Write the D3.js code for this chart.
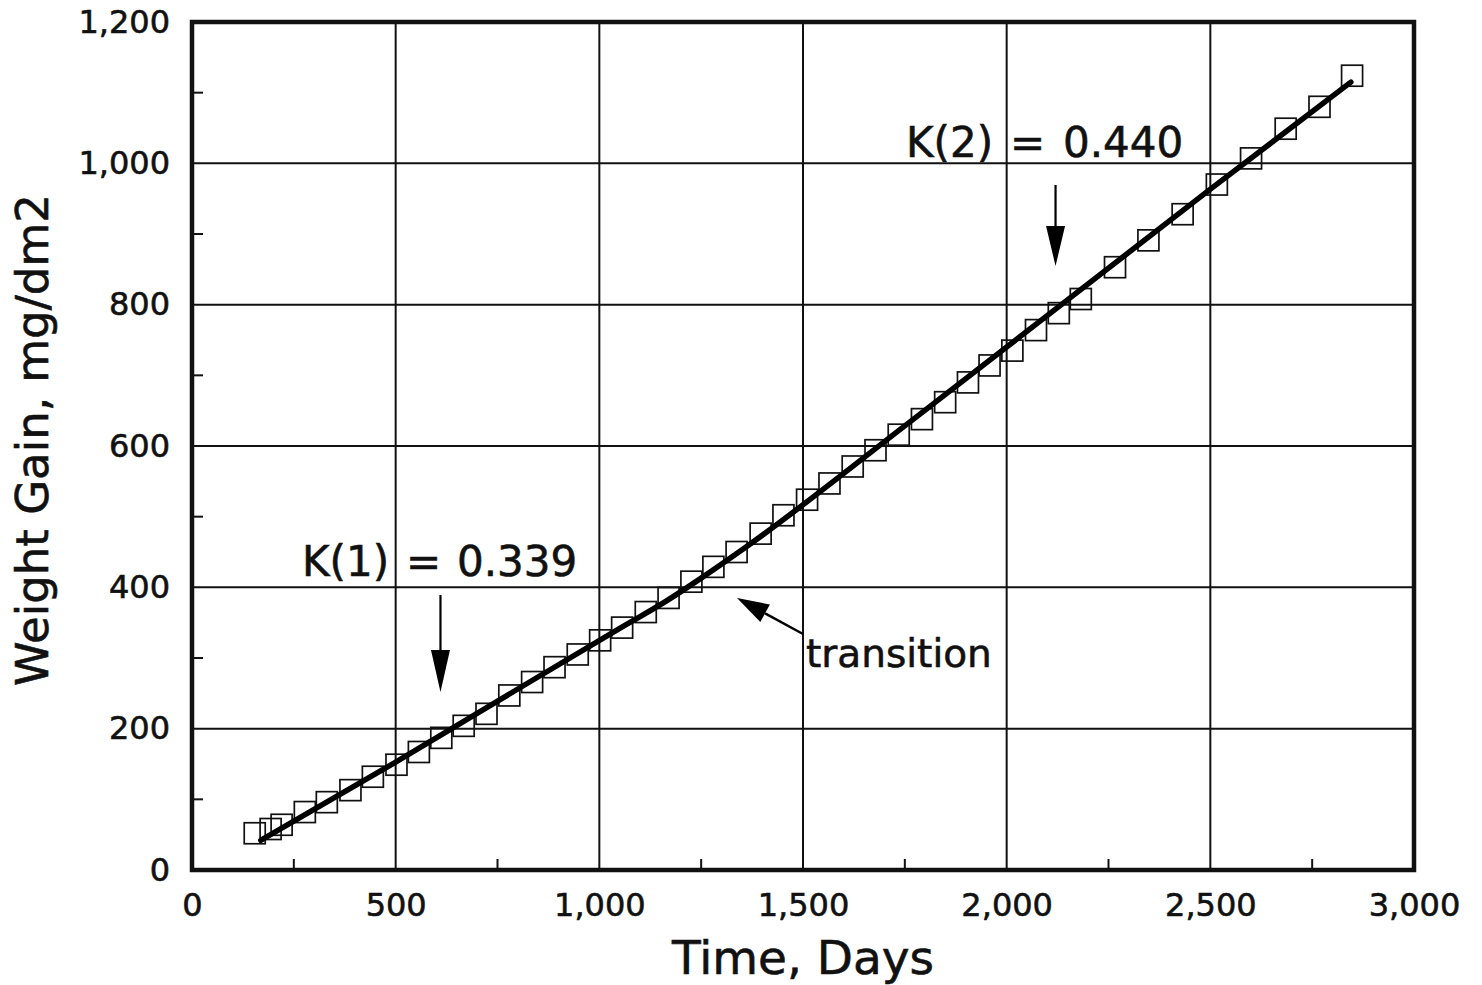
<!DOCTYPE html>
<html>
<head>
<meta charset="utf-8">
<script src="https://cdn.jsdelivr.net/npm/d3@7"></script>
<style>
  html, body { margin: 0; padding: 0; background: #fff; }
  svg { display: block; }
  text { font-family: "DejaVu Sans", sans-serif; fill: #111; stroke: #111; stroke-width: 0.6px; }
</style>
</head>
<body>
<svg id="chart" width="1482" height="985"></svg>
<script>
// ---- data ----
const days = [154, 193, 220, 277, 331, 389, 444, 502, 557, 612, 667, 723, 779, 835, 890, 947,
  1002, 1056, 1114, 1170, 1226, 1280, 1337, 1396, 1452, 1510, 1565, 1622, 1678, 1735, 1792,
  1849, 1905, 1958, 2014, 2072, 2128, 2182, 2266, 2348, 2432, 2516, 2600, 2685, 2768, 2848];
const weightGain = [52, 58, 64, 82, 96, 113, 132, 149, 167, 187, 204, 221, 247, 266, 287, 305,
  325, 343, 365, 385, 408, 429, 450, 476, 502, 524, 547, 571, 594, 616, 638,
  662, 690, 714, 735, 764, 788, 808, 853, 891, 928, 970, 1007, 1049, 1080, 1124];
// fitted curve (two linear regimes with a transition)
const fitDays  = [169, 498, 707, 1050, 1160, 1250, 1360, 1769, 2497, 2845];
const fitValue = [42, 152, 224, 342, 379, 413, 457, 637, 962, 1115];
const xTicks = [0, 500, 1000, 1500, 2000, 2500, 3000];
const yTicks = [0, 200, 400, 600, 800, 1000, 1200];
const xMinor = [250, 750, 1250, 1750, 2250, 2750];
const yMinor = [100, 300, 500, 700, 900, 1100];
const xTitle = "Time, Days";
const yTitle = "Weight Gain, mg/dm2";

// ---- layout ----
const svg = d3.select("#chart");
const L = 192, R = 1414, T = 22, B = 870;
const x = d3.scaleLinear().domain([0, 3000]).range([L, R]);
const y = d3.scaleLinear().domain([0, 1200]).range([B, T]);
const fmt = d3.format(",");

// grid
svg.append("g").selectAll("line").data(xTicks.slice(1, -1)).join("line")
  .attr("x1", d => x(d)).attr("x2", d => x(d)).attr("y1", T).attr("y2", B)
  .attr("stroke", "#111").attr("stroke-width", 2);
svg.append("g").selectAll("line").data(yTicks.slice(1, -1)).join("line")
  .attr("y1", d => y(d)).attr("y2", d => y(d)).attr("x1", L).attr("x2", R)
  .attr("stroke", "#111").attr("stroke-width", 2);

// axes (labels)
const xAxis = d3.axisBottom(x).tickValues(xTicks).tickFormat(fmt).tickSize(0).tickPadding(23);
const gx = svg.append("g").attr("transform", `translate(0,${B})`).call(xAxis);
gx.select(".domain").remove();
gx.selectAll("text").attr("font-size", 32).attr("font-family", "DejaVu Sans").attr("fill", "#111");

const yAxis = d3.axisLeft(y).tickValues(yTicks).tickFormat(fmt).tickSize(0).tickPadding(22);
const gy = svg.append("g").attr("transform", `translate(${L},0)`).call(yAxis);
gy.select(".domain").remove();
gy.selectAll("text").attr("font-size", 32).attr("font-family", "DejaVu Sans").attr("fill", "#111");

// minor ticks (inside)
svg.append("g").selectAll("line").data(xMinor).join("line")
  .attr("x1", d => x(d)).attr("x2", d => x(d)).attr("y1", B).attr("y2", B - 11)
  .attr("stroke", "#111").attr("stroke-width", 2);
svg.append("g").selectAll("line").data(yMinor).join("line")
  .attr("y1", d => y(d)).attr("y2", d => y(d)).attr("x1", L).attr("x2", L + 11)
  .attr("stroke", "#111").attr("stroke-width", 2);

// frame
svg.append("rect").attr("x", L).attr("y", T).attr("width", R - L).attr("height", B - T)
  .attr("fill", "none").attr("stroke", "#111").attr("stroke-width", 4.5);

// markers
const pts = days.map((d, i) => [d, weightGain[i]]);
const S = 21;
svg.append("g").selectAll("rect").data(pts).join("rect")
  .attr("x", d => x(d[0]) - S / 2).attr("y", d => y(d[1]) - S / 2)
  .attr("width", S).attr("height", S)
  .attr("fill", "none").attr("stroke", "#111").attr("stroke-width", 1.7);

// fit line
const fit = fitDays.map((d, i) => [d, fitValue[i]]);
svg.append("path").datum(fit)
  .attr("d", d3.line().x(d => x(d[0])).y(d => y(d[1])).curve(d3.curveMonotoneX))
  .attr("fill", "none").attr("stroke", "#000").attr("stroke-width", 5.5).attr("stroke-linecap", "round");

// axis titles
svg.append("text").attr("x", 803).attr("y", 974).attr("text-anchor", "middle")
  .attr("font-size", 47).text(xTitle);
svg.append("text").attr("transform", `translate(48,${440}) rotate(-90)`).attr("text-anchor", "middle")
  .attr("font-size", 45).text(yTitle);

// annotations
function arrow(x1, y1, x2, y2, headLen, headW, sw) {
  const dx = x2 - x1, dy = y2 - y1, len = Math.hypot(dx, dy);
  const ux = dx / len, uy = dy / len;
  const bx = x2 - ux * headLen, by = y2 - uy * headLen;
  svg.append("line").attr("x1", x1).attr("y1", y1).attr("x2", bx).attr("y2", by)
    .attr("stroke", "#000").attr("stroke-width", sw);
  const px = -uy * headW / 2, py = ux * headW / 2;
  svg.append("path").attr("d", `M${x2},${y2}L${bx + px},${by + py}L${bx - px},${by - py}Z`).attr("fill", "#000");
}
function label(parts, yb, size) {
  parts.forEach(p => svg.append("text").attr("x", p[0]).attr("y", yb).attr("font-size", size).text(p[1]));
}
label([[302, "K(1)"], [406, "="], [457, "0.339"]], 576, 42);
arrow(x(610), 595, x(610), 692, 42, 19, 2.2);
label([[906, "K(2)"], [1010, "="], [1063, "0.440"]], 157, 42);
arrow(x(2120), 185, x(2120), 266, 40, 19, 2.2);
svg.append("text").attr("x", 806).attr("y", 667).attr("font-size", 39).text("transition");
arrow(803, 634, 737, 598, 32, 20, 2.5);
</script>
</body>
</html>
